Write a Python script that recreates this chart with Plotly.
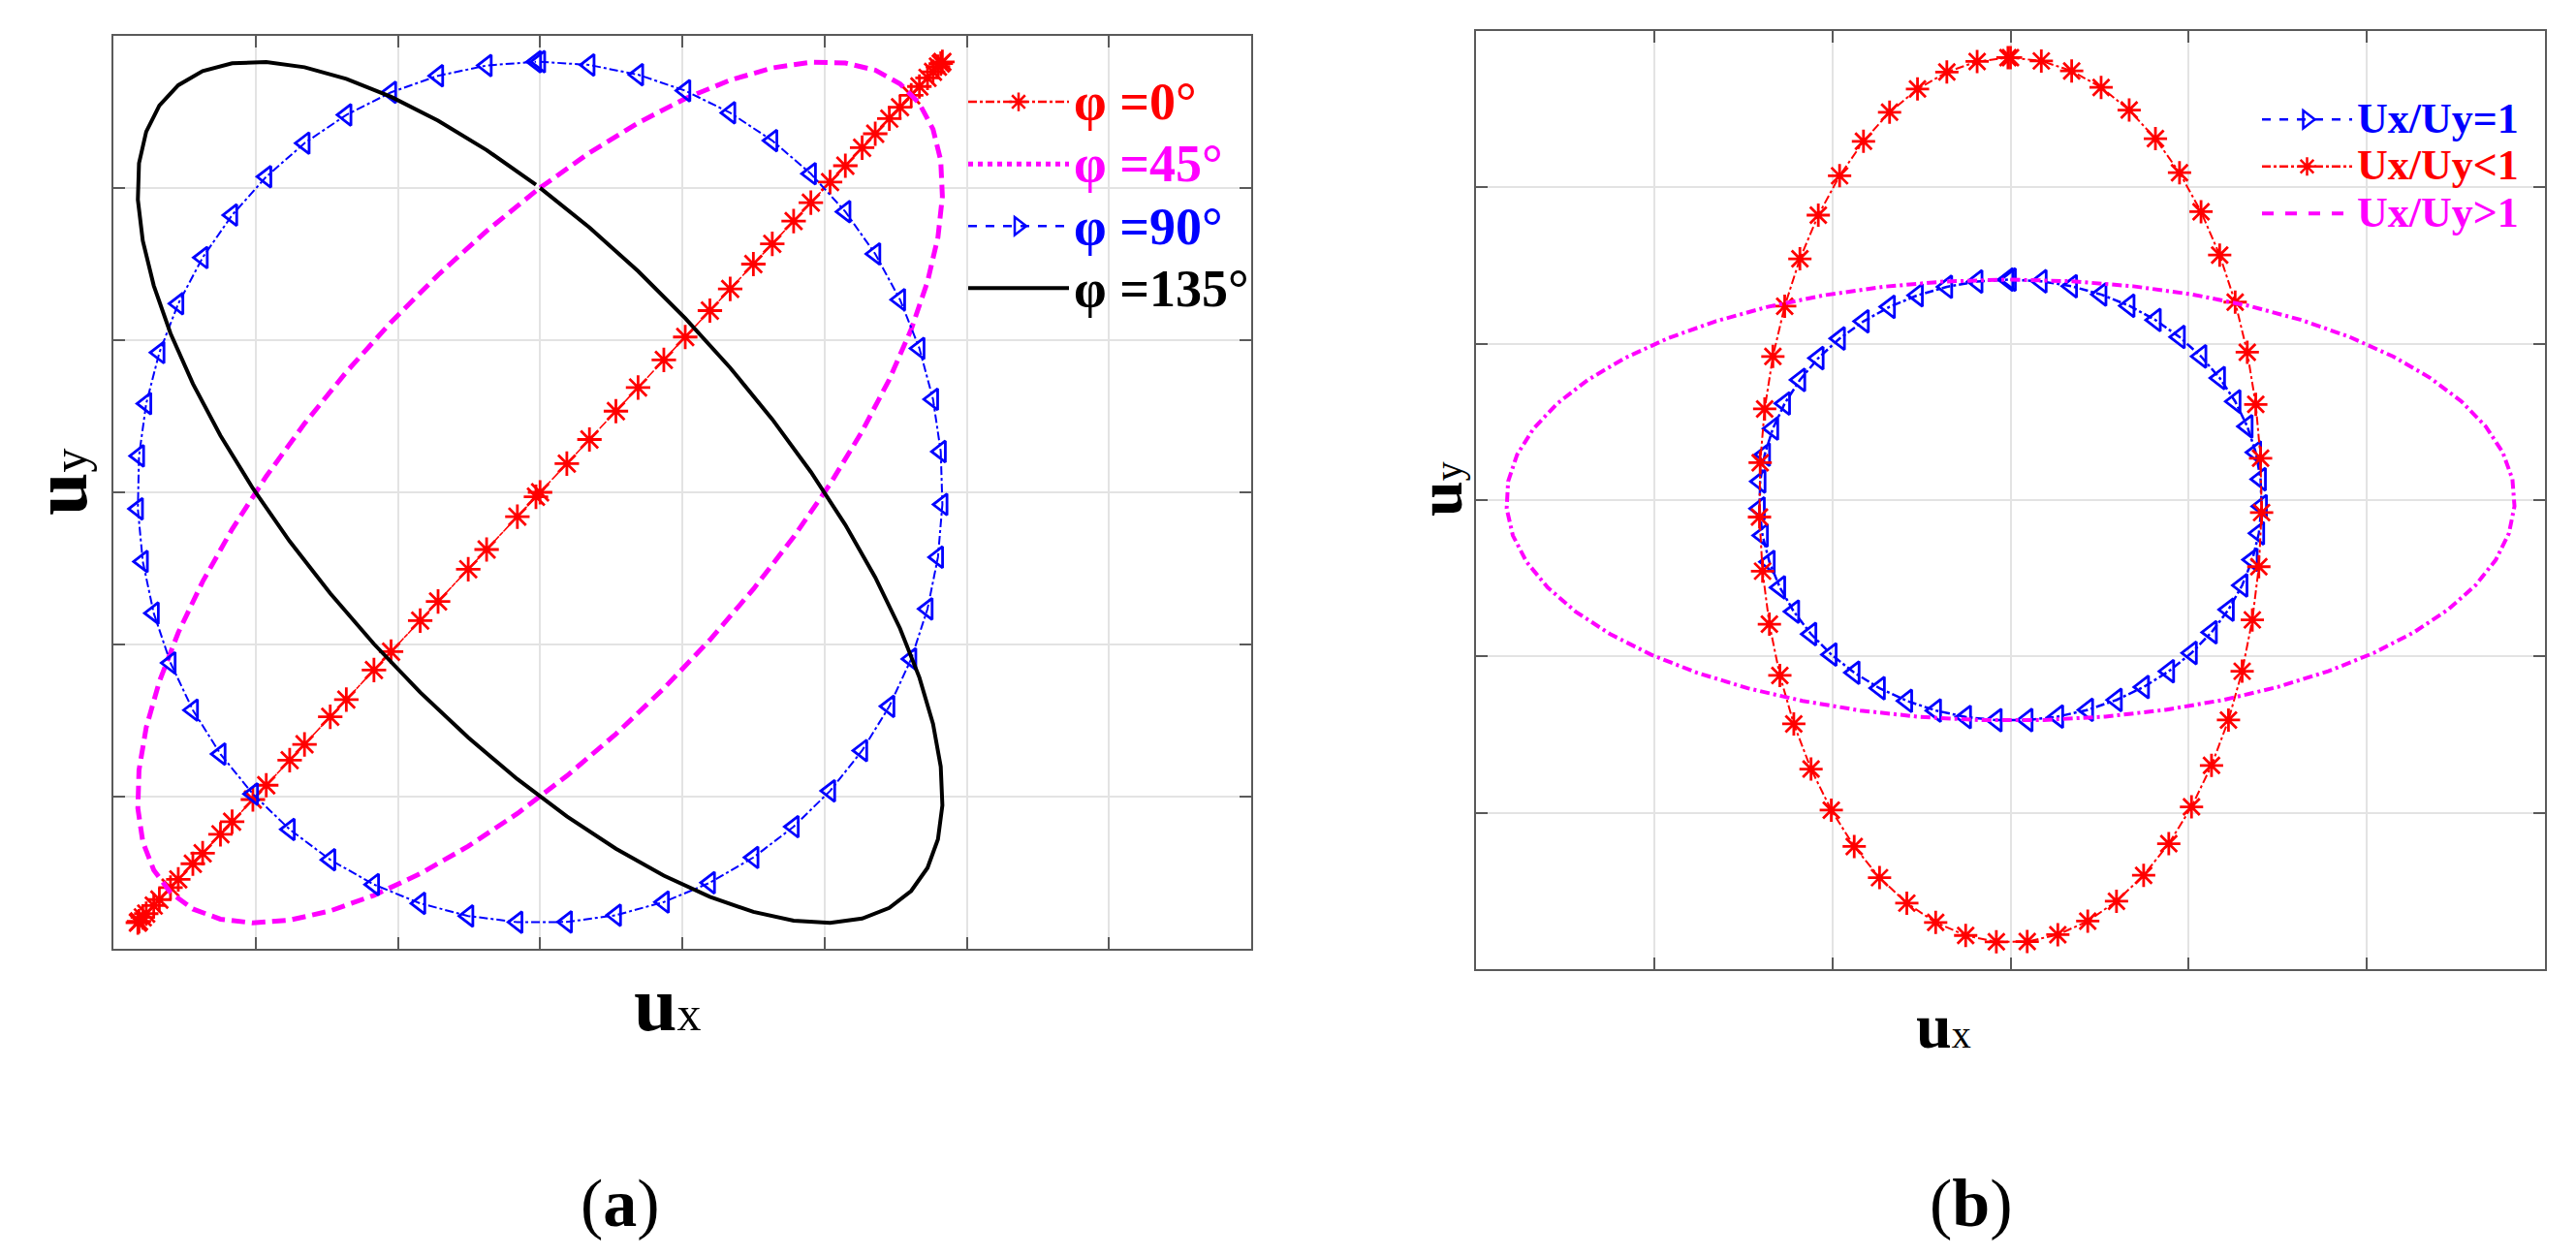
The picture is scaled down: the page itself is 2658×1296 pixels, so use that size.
import numpy as np
import plotly.graph_objects as go

# ---- data ----
# (a) equal amplitudes, different phase shift between u_x and u_y
phase_a = [0, 45, 90, 135]          # degrees
amp_a = 2.83                        # amplitude of u_x and u_y (grid units)
names_a = ['φ =0°', 'φ =45°', 'φ =90°', 'φ =135°']

# (b) phase 90 deg, different amplitude ratios
names_b = ['Ux/Uy=1', 'Ux/Uy<1', 'Ux/Uy>1']
amp_x_b = [1.41, 1.41, 2.83]
amp_y_b = [1.41, 2.83, 1.41]
phase_b = 90

# time samples over one period
t = np.arange(0, 2 * np.pi, 0.123)

# ---- styles ----
FONT = 'Liberation Serif'
style_a = [
    dict(color='#FF0000', dash='dashdot', width=1.5, symbol='asterisk-open', size=21,
         leg_symbol='asterisk-open', leg_dash='dashdot'),
    dict(color='#FF00FF', dash='14px,7px', width=5, symbol=None, size=0,
         leg_symbol=None, leg_dash='dot'),
    dict(color='#0000FF', dash='dashdot', width=2, symbol='triangle-left-open', size=19,
         leg_symbol='triangle-right-open', leg_dash='dash'),
    dict(color='#000000', dash='solid', width=4, symbol=None, size=0,
         leg_symbol=None, leg_dash='solid'),
]
style_b = [
    dict(color='#0000FF', dash='dashdot', width=2.5, symbol='triangle-left-open', size=20,
         leg_symbol='triangle-right-open', leg_dash='dash'),
    dict(color='#FF0000', dash='dashdot', width=2, symbol='asterisk-open', size=20,
         leg_symbol='asterisk-open', leg_dash='dashdot'),
    dict(color='#FF00FF', dash='10px,4px,3px,4px', width=4, symbol=None, size=0,
         leg_symbol=None, leg_dash='dash'),
]

fig = go.Figure()


def add_curve(x, y, st, name, xa, ya, legend, group, txt_size):
    mode = 'lines+markers' if st['symbol'] else 'lines'
    fig.add_trace(go.Scatter(
        x=x, y=y, mode=mode, xaxis=xa, yaxis=ya, showlegend=False,
        line=dict(color=st['color'], width=st['width'], dash=st['dash']),
        marker=dict(symbol=st['symbol'], size=st['size'], color=st['color'],
                    line=dict(color=st['color'], width=2.8)) if st['symbol'] else None,
    ))
    # legend entry (symbol drawn the way the original legend shows it)
    lmode = 'lines+markers' if st['leg_symbol'] else 'lines'
    fig.add_trace(go.Scatter(
        x=[None], y=[None], mode=lmode, xaxis=xa, yaxis=ya, legend=legend,
        legendgroup=group,
        name="<span style='color:%s;font-size:%dpx'><b>%s</b></span>" % (st['color'], txt_size, name),
        line=dict(color=st['color'], width=max(st['width'], 2.5), dash=st['leg_dash']),
        marker=dict(symbol=st['leg_symbol'], size=18, color=st['color'],
                    line=dict(color=st['color'], width=2.5)) if st['leg_symbol'] else None,
    ))


for i, (ph, st, nm) in enumerate(zip(phase_a, style_a, names_a)):
    add_curve(amp_a * np.sin(t), amp_a * np.sin(t + np.radians(ph)), st, nm,
              'x', 'y', 'legend', 'a%d' % i, 54)

for i, (axx, ayy, st, nm) in enumerate(zip(amp_x_b, amp_y_b, style_b, names_b)):
    add_curve(axx * np.sin(t), ayy * np.sin(t + np.radians(phase_b)), st, nm,
              'x2', 'y2', 'legend2', 'b%d' % i, 44)

W, H = 2658, 1296
axis_common = dict(showticklabels=False, showgrid=True, gridcolor='#E3E3E3', gridwidth=1.5,
                   zeroline=False, showline=True, linecolor='#5A5A5A', linewidth=2,
                   mirror='ticks', ticks='inside', ticklen=12, tickwidth=2,
                   tickcolor='#5A5A5A', tick0=-3, dtick=1)

fig.update_layout(
    width=W, height=H, autosize=False,
    margin=dict(l=0, r=0, t=0, b=0),
    paper_bgcolor='white', plot_bgcolor='white',
    font=dict(family=FONT, color='black'),
    xaxis=dict(domain=[117 / W, 1291 / W], range=[-3, 5], anchor='y', **axis_common),
    yaxis=dict(domain=[1 - 979 / H, 1 - 37 / H], range=[-3, 3], anchor='x', **axis_common),
    xaxis2=dict(domain=[1523 / W, 2626 / W], range=[-3, 3], anchor='y2', **axis_common),
    yaxis2=dict(domain=[1 - 1000 / H, 1 - 32 / H], range=[-3, 3], anchor='x2', **axis_common),
    legend=dict(x=994 / W, y=1 - 68 / H, xanchor='left', yanchor='top',
                bgcolor='rgba(0,0,0,0)', borderwidth=0, itemwidth=104,
                tracegroupgap=0, font=dict(family=FONT, size=47)),
    legend2=dict(x=2329 / W, y=1 - 94 / H, xanchor='left', yanchor='top',
                 bgcolor='rgba(0,0,0,0)', borderwidth=0, itemwidth=93,
                 tracegroupgap=0, font=dict(family=FONT, size=35)),
)

labels = [
    ("<b>u</b><span style='font-size:50px'>x</span>", 689, 1036, 0, 80),
    ("<b>u</b><span style='font-size:50px'>y</span>", 62, 497, -90, 80),
    ("<b>u</b><span style='font-size:40px'>x</span>", 2005, 1058, 0, 66),
    ("<b>u</b><span style='font-size:40px'>y</span>", 1485, 505, -90, 66),
    ("(<b>a</b>)", 640, 1241, 0, 70),
    ("(<b>b</b>)", 2034, 1241, 0, 70),
]
for txt, px, py, ang, fs in labels:
    fig.add_annotation(text=txt, x=px / W, y=1 - py / H, xref='paper', yref='paper',
                       xanchor='center', yanchor='middle', showarrow=False,
                       textangle=ang, font=dict(family=FONT, size=fs, color='black'))

fig.write_html("out.html", config={'displayModeBar': False},
               post_script="document.body.style.margin='0';")
